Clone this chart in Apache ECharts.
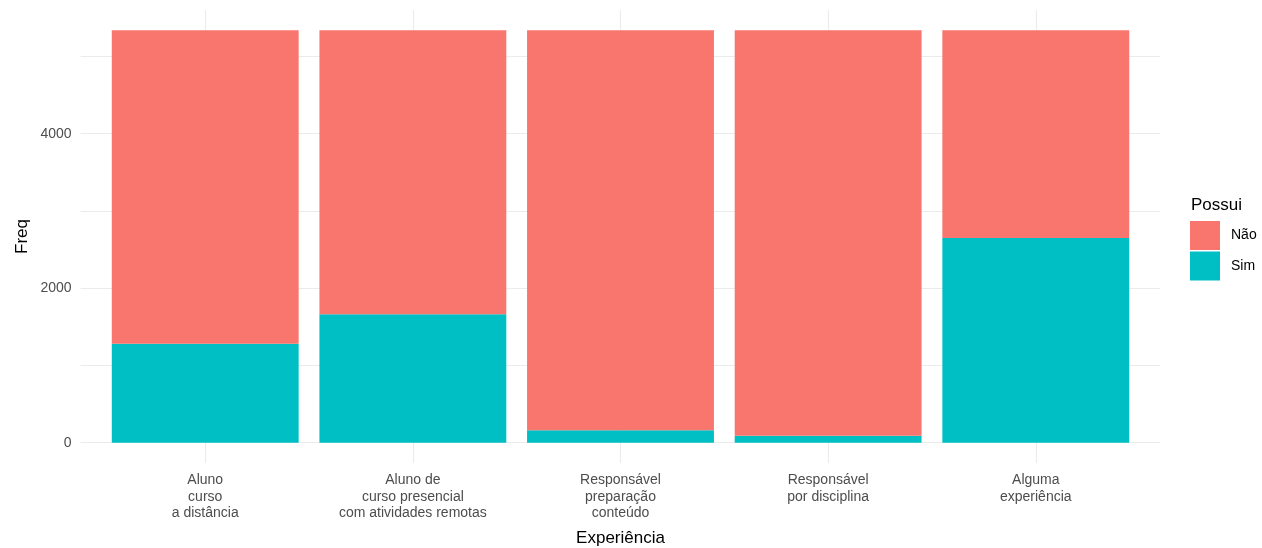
<!DOCTYPE html>
<html>
<head>
<meta charset="utf-8">
<script src="https://cdn.jsdelivr.net/npm/echarts@6/dist/echarts.min.js"></script>
<style>html,body{margin:0;padding:0;background:#fff}#c{width:1262px;height:548px}</style>
</head>
<body>
<div id="c"></div>
<script>
const categories = [
  'Aluno\ncurso\na distância',
  'Aluno de\ncurso presencial\ncom atividades remotas',
  'Responsável\npreparação\nconteúdo',
  'Responsável\npor disciplina',
  'Alguma\nexperiência'
];
const simValues = [1282, 1662, 160, 91, 2650];
const naoValues = [4058, 3678, 5180, 5249, 2690];
const yTicks = [0, 2000, 4000];

const FONT = '"Liberation Sans", Arial, sans-serif';
const GRID_COLOR = '#ebebeb';
const chart = echarts.init(document.getElementById('c'));

chart.setOption({
  animation: false,
  backgroundColor: '#ffffff',
  title: {
    text: 'Possui', left: 1186, top: 192,
    textStyle: { fontFamily: FONT, fontSize: 17, fontWeight: 'normal', color: '#000' }
  },
  legend: {
    data: ['Não', 'Sim'],
    orient: 'vertical', left: 1190, top: 221,
    itemWidth: 30, itemHeight: 29, itemGap: 1.5,
    icon: 'rect',
    padding: 0,
    textStyle: { fontFamily: FONT, fontSize: 14, color: '#000', padding: [0, 0, 0, 6] }
  },
  grid: [
    { left: 80.6, right: 101.6, top: 56.45, bottom: 105.3, containLabel: false, outerBoundsMode: 'none' },
    { left: 101.4, right: 122.4, top: 10, bottom: 85, containLabel: false, outerBoundsMode: 'none' }
  ],
  xAxis: [
    { type: 'value', gridIndex: 0, min: 0, max: 1, show: false },
    {
      type: 'category', gridIndex: 1, data: categories,
      axisLine: { show: false }, axisTick: { show: false }, splitLine: { show: false },
      axisLabel: { margin: 9, fontFamily: FONT, fontSize: 14, color: '#4d4d4d', lineHeight: 16.6, align: 'center' },
      name: 'Experiência', nameLocation: 'middle', nameGap: 67,
      nameTextStyle: { fontFamily: FONT, fontSize: 17, color: '#000' }
    }
  ],
  yAxis: [
    {
      type: 'value', gridIndex: 0, min: 0, max: 5000, interval: 1000,
      axisLine: { show: false }, axisTick: { show: false },
      splitLine: { show: true, lineStyle: { color: GRID_COLOR, width: 1.1 } },
      axisLabel: {
        margin: 9, fontFamily: FONT, fontSize: 14, color: '#4d4d4d',
        formatter: v => (yTicks.indexOf(v) >= 0 ? String(v) : '')
      }
    },
    {
      type: 'value', gridIndex: 1, min: -262.8, max: 5601.3,
      axisLine: { show: false }, axisTick: { show: false }, axisLabel: { show: false },
      splitLine: { show: false },
      name: 'Freq', nameLocation: 'middle', nameGap: 71, nameRotate: 90,
      nameTextStyle: { fontFamily: FONT, fontSize: 17, color: '#000' }
    }
  ],
  series: [
    {
      name: 'Sim', type: 'bar', stack: 'total', xAxisIndex: 1, yAxisIndex: 1,
      data: simValues, barWidth: '90%', z: 3,
      itemStyle: { color: '#00BFC4' },
      markLine: {
        silent: true, symbol: 'none', z: 1, animation: false,
        label: { show: false },
        lineStyle: { color: GRID_COLOR, width: 1.1, type: 'solid' },
        data: categories.map(c => ({ xAxis: c }))
      }
    },
    {
      name: 'Não', type: 'bar', stack: 'total', xAxisIndex: 1, yAxisIndex: 1,
      data: naoValues, barWidth: '90%', z: 3,
      itemStyle: { color: '#F8766D' }
    }
  ]
});
</script>
</body>
</html>
